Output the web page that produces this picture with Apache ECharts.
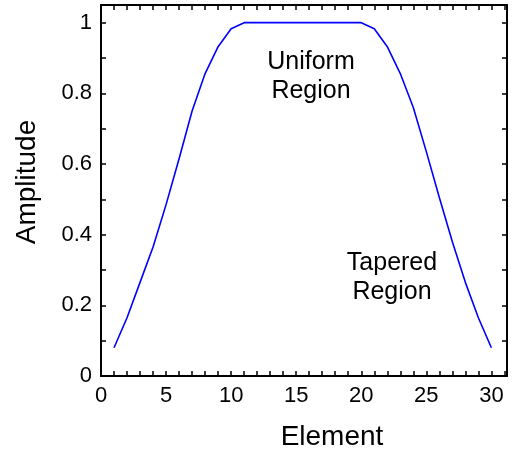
<!DOCTYPE html>
<html>
<head>
<meta charset="utf-8">
<script src="https://cdn.jsdelivr.net/npm/echarts@6/dist/echarts.min.js"></script>
<style>html,body{margin:0;padding:0;background:#fff;}#c{width:514px;height:453px;}</style>
</head>
<body>
<div id="c"></div>
<script>
var elements = [1,2,3,4,5,6,7,8,9,10,11,12,13,14,15,16,17,18,19,20,21,22,23,24,25,26,27,28,29,30];
var amplitude = [0.08,0.165,0.265,0.365,0.485,0.615,0.75,0.856,0.932,0.983,1,1,1,1,1,1,1,1,1,1,0.983,0.932,0.856,0.76,0.635,0.505,0.38,0.265,0.165,0.08];
var xLabelValues = [0,5,10,15,20,25,30];
var yLabelValues = [0,0.2,0.4,0.6,0.8,1];
var annotations = [["Uniform","Region"],["Tapered","Region"]];

var FONT = '"Liberation Sans", Arial, sans-serif';
var chart = echarts.init(document.getElementById('c'), null, {renderer:'canvas'});
var axisLine = {show:true, onZero:false, lineStyle:{color:'#000', width:2}};
var tick = {show:true, inside:true, length:5, lineStyle:{color:'#000', width:1.5}};
function xFmt(v){ for (var i=0;i<xLabelValues.length;i++) if (Math.abs(v-xLabelValues[i])<1e-6) return String(xLabelValues[i]); return ''; }
function yFmt(v){ for (var i=0;i<yLabelValues.length;i++) if (Math.abs(v-yLabelValues[i])<1e-6) return String(yLabelValues[i]); return ''; }

var data = elements.map(function(e,i){ return [e, amplitude[i]]; });

chart.setOption({
  animation:false,
  backgroundColor:'#fff',
  grid:{left:101, right:7, top:5, bottom:77, containLabel:false},
  xAxis:[
    {type:'value', min:0, max:31.2, interval:1, position:'bottom',
     axisLine:axisLine, axisTick:tick, splitLine:{show:false},
     axisLabel:{formatter:xFmt, fontSize:22, color:'#000', fontFamily:FONT, margin:9, showMaxLabel:false}},
    {type:'value', min:0, max:31.2, interval:1, position:'top',
     axisLine:axisLine, axisTick:tick, splitLine:{show:false}, axisLabel:{show:false}}
  ],
  yAxis:[
    {type:'value', min:0, max:1.05, interval:0.1, position:'left',
     axisLine:axisLine, axisTick:tick, splitLine:{show:false},
     axisLabel:{formatter:yFmt, fontSize:22, color:'#000', fontFamily:FONT, margin:9, showMaxLabel:false}},
    {type:'value', min:0, max:1.05, interval:0.1, position:'right',
     axisLine:axisLine, axisTick:tick, splitLine:{show:false}, axisLabel:{show:false}}
  ],
  series:[{
    type:'line', data:data, showSymbol:false, symbol:'none',
    lineStyle:{color:'#0000ff', width:1.6}, itemStyle:{color:'#0000ff'}
  }],
  graphic:[
    {type:'text', x:311, y:62, style:{text:annotations[0][0], font:'25px '+FONT, fill:'#000', align:'center', verticalAlign:'middle'}},
    {type:'text', x:311, y:91, style:{text:annotations[0][1], font:'25px '+FONT, fill:'#000', align:'center', verticalAlign:'middle'}},
    {type:'text', x:392, y:263, style:{text:annotations[1][0], font:'25px '+FONT, fill:'#000', align:'center', verticalAlign:'middle'}},
    {type:'text', x:392, y:292, style:{text:annotations[1][1], font:'25px '+FONT, fill:'#000', align:'center', verticalAlign:'middle'}},
    {type:'text', x:332, y:437, style:{text:'Element', font:'28px '+FONT, fill:'#000', align:'center', verticalAlign:'middle'}},
    {type:'text', x:27, y:182, rotation:Math.PI/2, style:{text:'Amplitude', font:'28px '+FONT, fill:'#000', align:'center', verticalAlign:'middle'}}
  ]
});
</script>
</body>
</html>
